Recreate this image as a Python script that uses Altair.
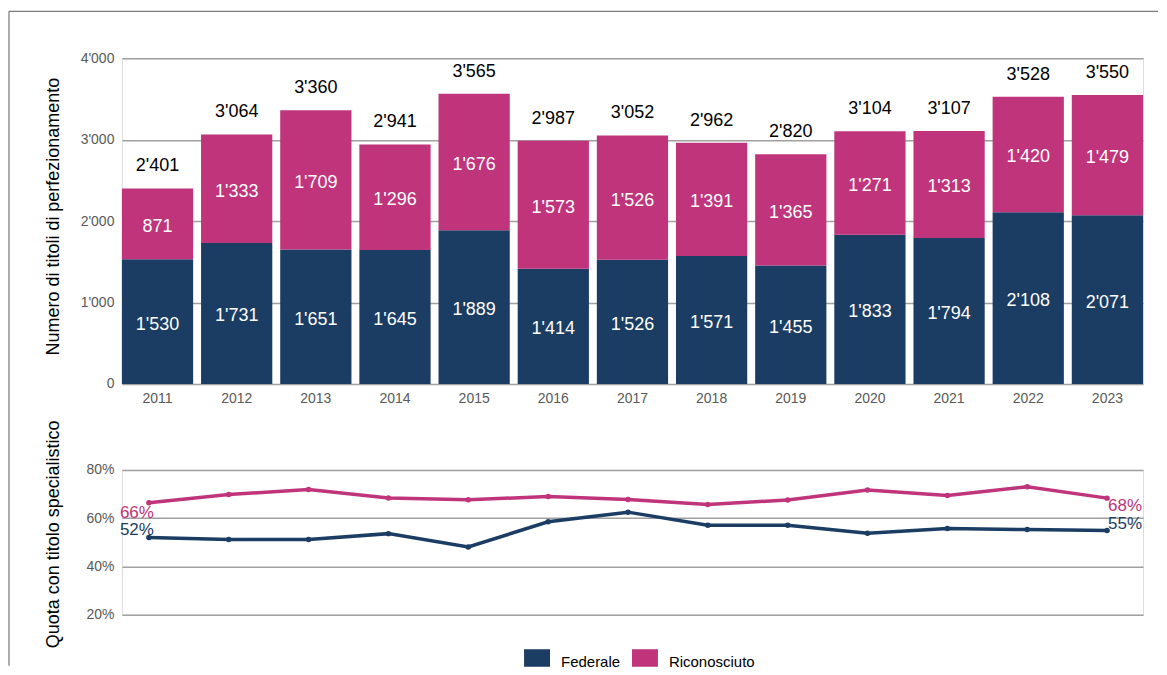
import altair as alt
import pandas as pd

years = [2011, 2012, 2013, 2014, 2015, 2016, 2017, 2018, 2019, 2020, 2021, 2022, 2023]
federale = [1530, 1731, 1651, 1645, 1889, 1414, 1526, 1571, 1455, 1833, 1794, 2108, 2071]
riconosciuto = [871, 1333, 1709, 1296, 1676, 1573, 1526, 1391, 1365, 1271, 1313, 1420, 1479]
quota_federale = [52.0, 51.2, 51.2, 53.6, 48.1, 58.5, 62.5, 57.1, 57.1, 53.8, 55.7, 55.3, 54.9]
quota_riconosciuto = [66.4, 69.8, 71.9, 68.4, 67.6, 69.0, 67.7, 65.7, 67.5, 71.7, 69.4, 73.0, 68.3]
series = ["Federale", "Riconosciuto"]
colors = ["#1b3d63", "#c0347c"]
y_ticks = [0, 1000, 2000, 3000, 4000]
pct_ticks = [0.2, 0.4, 0.6, 0.8]

FONT = "Liberation Sans"


def fmt(v):
    return f"{v:,}".replace(",", "'")


rows = []
for y, f, r in zip(years, federale, riconosciuto):
    rows.append(dict(anno=str(y), serie="Federale", valore=f, mid=f / 2, label=fmt(f), ordine=0))
    rows.append(dict(anno=str(y), serie="Riconosciuto", valore=r, mid=f + r / 2, label=fmt(r), ordine=1))
bars_df = pd.DataFrame(rows)
tot_df = pd.DataFrame(dict(anno=[str(y) for y in years],
                           totale=[f + r for f, r in zip(federale, riconosciuto)],
                           label=[fmt(f + r) for f, r in zip(federale, riconosciuto)]))

lrows = []
for i, y in enumerate(years):
    lrows.append(dict(anno=y, serie="Federale", quota=quota_federale[i] / 100,
                      label=f"{round(quota_federale[i])}%"))
    lrows.append(dict(anno=y, serie="Riconosciuto", quota=quota_riconosciuto[i] / 100,
                      label=f"{round(quota_riconosciuto[i])}%"))
line_df = pd.DataFrame(lrows)

color_scale = alt.Scale(domain=series, range=colors)

x_bar = alt.X("anno:O", title=None,
              scale=alt.Scale(paddingInner=0.1, paddingOuter=0),
              axis=alt.Axis(labelAngle=0, ticks=False, domain=False, labelPadding=8,
                            labelFontSize=14, labelColor="#595959", labelFont=FONT))
Y_TITLE = "Numero di titoli di perfezionamento"
y_axis = alt.Axis(values=y_ticks, ticks=False, domain=False, labelPadding=8,
                  labelExpr="replace(format(datum.value, ','), ',', \"'\")",
                  labelFontSize=14, labelColor="#595959", labelFont=FONT,
                  grid=True, gridColor="#a0a0a0", gridWidth=1.5,
                  title=Y_TITLE, titleFontSize=18,
                  titleFont=FONT, titleColor="#000000", titleFontWeight="normal",
                  titleX=-59, titleY=158)
y_scale = alt.Scale(domain=[0, 4000], nice=False)

bars = alt.Chart(bars_df).mark_bar().encode(
    x=x_bar,
    y=alt.Y("valore:Q", stack="zero", scale=y_scale, axis=y_axis, title=Y_TITLE),
    color=alt.Color("serie:N", scale=color_scale,
                    legend=alt.Legend(title=None, orient="none", legendX=402.5, legendY=591.5,
                                      direction="horizontal", padding=0,
                                      symbolType="M-1,-1H1V0.35H-1Z", symbolSize=676,
                                      symbolStrokeWidth=0, labelFontSize=15,
                                      labelFont=FONT, labelColor="#000000",
                                      labelOffset=11, columnPadding=11)),
    order=alt.Order("ordine:Q"),
)

seg_labels = alt.Chart(bars_df).mark_text(color="white", fontSize=18, font=FONT,
                                          baseline="middle", dy=3).encode(
    x=x_bar,
    y=alt.Y("mid:Q", scale=y_scale, axis=y_axis, title=Y_TITLE),
    text="label:N",
)

tot_labels = alt.Chart(tot_df).mark_text(color="black", fontSize=18, font=FONT,
                                         baseline="middle", dy=-22).encode(
    x=x_bar,
    y=alt.Y("totale:Q", scale=y_scale, axis=y_axis, title=Y_TITLE),
    text="label:N",
)

frame_df = pd.DataFrame({"k": [0]})
top_border = alt.Chart(frame_df).mark_rule(color="#5a5a5a", strokeWidth=1).encode(
    x=alt.value(-113), x2=alt.value(1037), y=alt.value(-47))

top = alt.layer(bars, seg_labels, tot_labels, top_border).properties(width=1022, height=326)

x_line = alt.X("anno:Q", scale=alt.Scale(domain=[2010.662, 2023.45], nice=False, zero=False), axis=None)
P_TITLE = "Quota con titolo specialistico"
pct_axis = alt.Axis(values=pct_ticks, format=".0%", ticks=False, domain=False, labelPadding=8,
                    labelFontSize=14, labelColor="#595959", labelFont=FONT,
                    grid=True, gridColor="#a0a0a0", gridWidth=1.5,
                    title=P_TITLE, titleFontSize=18,
                    titleFont=FONT, titleColor="#000000", titleFontWeight="normal",
                    titleX=-59, titleY=64)
y_pct = alt.Y("quota:Q", scale=alt.Scale(domain=[0.2, 0.8], nice=False, zero=False),
              axis=pct_axis, title=P_TITLE)
col_line = alt.Color("serie:N", scale=color_scale, legend=None)

base_line = alt.Chart(line_df).encode(x=x_line, y=y_pct, color=col_line)
lines = base_line.mark_line(strokeWidth=3.5)
points = base_line.mark_point(filled=True, size=30, opacity=1)


def end_label(serie, year, align, dx, dy):
    return alt.Chart(line_df).transform_filter(
        (alt.datum.serie == serie) & (alt.datum.anno == year)
    ).mark_text(fontSize=17, font=FONT, align=align, baseline="middle", dx=dx, dy=dy).encode(
        x=x_line, y=y_pct, color=col_line, text="label:N")


lab1 = end_label("Riconosciuto", years[0], "right", 5, 10)
lab2 = end_label("Federale", years[0], "right", 5, -7)
lab3 = end_label("Riconosciuto", years[-1], "left", 1, 8)
lab4 = end_label("Federale", years[-1], "left", 1, -6)

left_border = alt.Chart(frame_df).mark_rule(color="#5a5a5a", strokeWidth=1).encode(
    x=alt.value(-113), y=alt.value(-459), y2=alt.value(196))

bottom = alt.layer(lines, points, lab1, lab2, lab3, lab4, left_border).properties(width=1022, height=145)

chart = alt.vconcat(top, bottom, spacing=86, bounds="flush").properties(
    padding={"left": 0, "top": 2, "right": 0, "bottom": 0}
).configure_view(stroke=None).configure(font=FONT)

chart.save("out.html", embed_options={"renderer": "svg", "actions": False})
